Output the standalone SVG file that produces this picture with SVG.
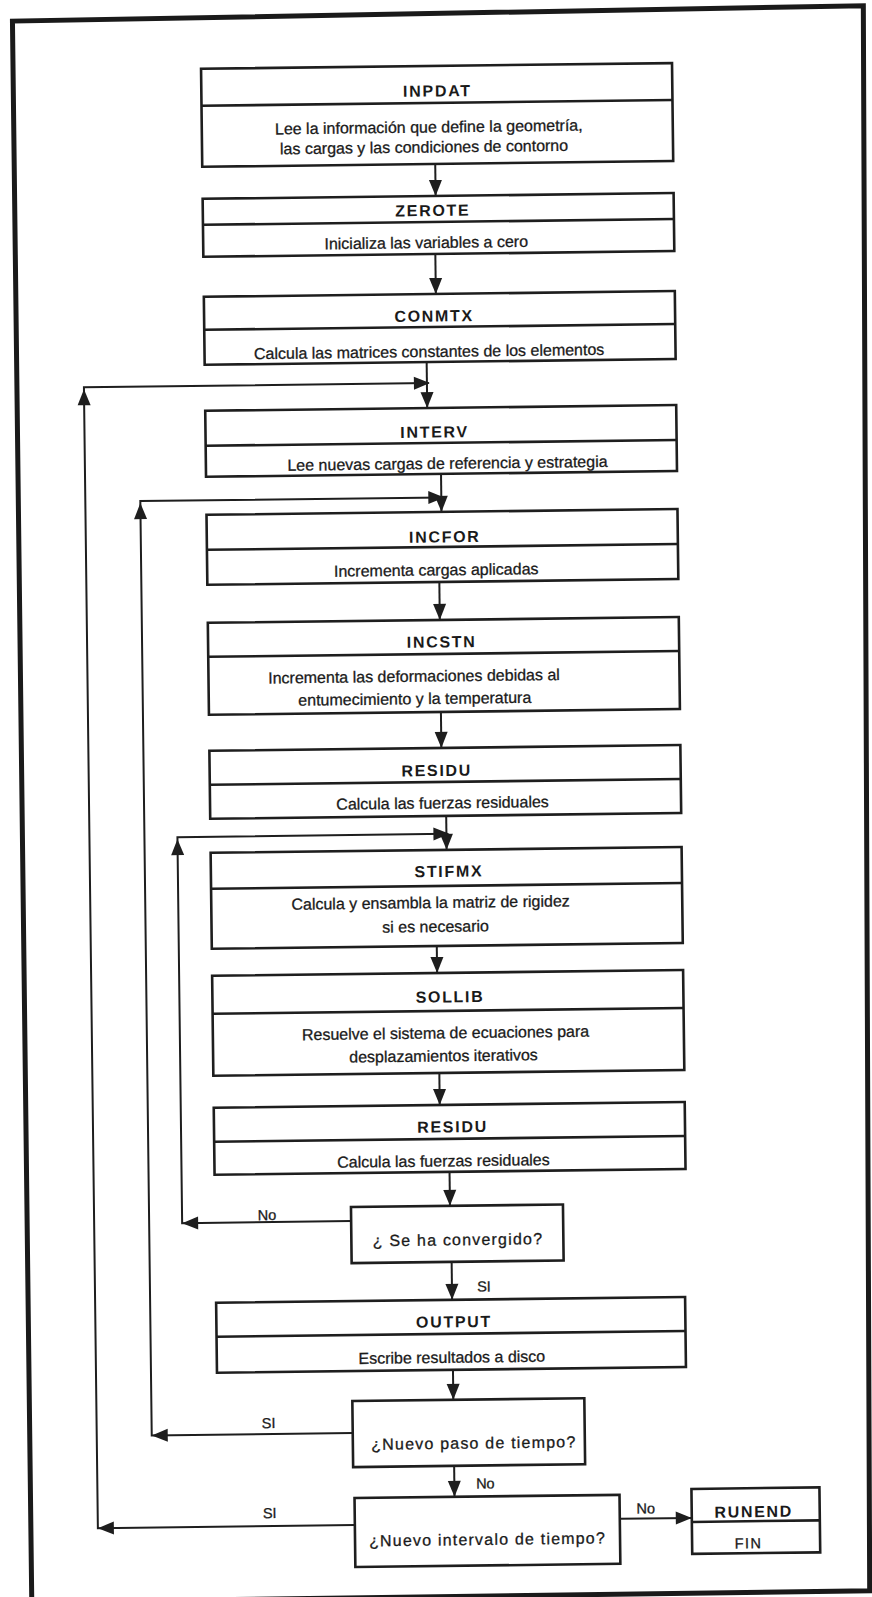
<svg xmlns="http://www.w3.org/2000/svg" xmlns:xlink="http://www.w3.org/1999/xlink" width="872" height="1597" viewBox="0 0 872 1597">
<style>
.box{fill:#fff;stroke:#1e1e1e;stroke-width:2.6}
.div{stroke:#1e1e1e;stroke-width:2.6}
.ln{fill:none;stroke:#1e1e1e;stroke-width:2}
.frame{fill:none;stroke:#1a1a1a;stroke-width:5}
.ttl{font-family:"Liberation Sans",Arial,sans-serif;font-size:16px;font-weight:bold;letter-spacing:1.7px;text-anchor:middle;fill:#1a1a1a}
.txt{font-family:"Liberation Sans",Arial,sans-serif;font-size:16px;text-anchor:middle;fill:#1a1a1a;stroke:#1a1a1a;stroke-width:0.3}
.dec{font-family:"Liberation Sans",Arial,sans-serif;font-size:16px;letter-spacing:1.2px;text-anchor:middle;fill:#1a1a1a;stroke:#1a1a1a;stroke-width:0.3}
.lbl{font-family:"Liberation Sans",Arial,sans-serif;font-size:14.5px;text-anchor:middle;fill:#1a1a1a;stroke:#1a1a1a;stroke-width:0.3}
.ah{fill:#1e1e1e}
</style>
<defs>
<path id="ah" class="ah" d="M0 0 L-16 -6.5 L-16 6.5 Z"/>
</defs>
<rect width="872" height="1597" fill="#fff"/>
<g transform="rotate(-0.7 436 800)">
<path class="frame" d="M22 1600 L22 16 L873 11 L860 1596 L200 1597"/>

<g id="inpdat">
<rect class="box" x="210" y="66" width="471" height="98"/>
<line class="div" x1="210" y1="103" x2="681" y2="103"/>
<text class="ttl" x="446" y="96.5">INPDAT</text>
<text class="txt" x="437" y="132.5">Lee la información que define la geometría,</text>
<text class="txt" x="432" y="152.5">las cargas y las condiciones de contorno</text>
</g>
<g id="zerote">
<rect class="box" x="210" y="196" width="471" height="58"/>
<line class="div" x1="210" y1="222" x2="681" y2="222"/>
<text class="ttl" x="440" y="216">ZEROTE</text>
<text class="txt" x="433" y="248">Inicializa las variables a cero</text>
</g>
<g id="conmtx">
<rect class="box" x="210" y="294" width="471" height="68"/>
<line class="div" x1="210" y1="327" x2="681" y2="327"/>
<text class="ttl" x="440" y="321.5">CONMTX</text>
<text class="txt" x="434.6" y="357">Calcula las matrices constantes de los elementos</text>
</g>
<g id="interv">
<rect class="box" x="210" y="408" width="471" height="66"/>
<line class="div" x1="210" y1="443" x2="681" y2="443"/>
<text class="ttl" x="439" y="437.5">INTERV</text>
<text class="txt" x="451.6" y="469">Lee nuevas cargas de referencia y estrategia</text>
</g>
<g id="incfor">
<rect class="box" x="210" y="512" width="471" height="70"/>
<line class="div" x1="210" y1="547" x2="681" y2="547"/>
<text class="ttl" x="448" y="542.5">INCFOR</text>
<text class="txt" x="439" y="575.5">Incrementa cargas aplicadas</text>
</g>
<g id="incstn">
<rect class="box" x="210" y="620" width="471" height="92"/>
<line class="div" x1="210" y1="654" x2="681" y2="654"/>
<text class="ttl" x="443.5" y="647.5">INCSTN</text>
<text class="txt" x="415.5" y="681.5">Incrementa las deformaciones debidas al</text>
<text class="txt" x="416" y="704">entumecimiento y la temperatura</text>
</g>
<g id="residu1">
<rect class="box" x="210" y="748" width="471" height="68"/>
<line class="div" x1="210" y1="782" x2="681" y2="782"/>
<text class="ttl" x="437" y="776">RESIDU</text>
<text class="txt" x="442.5" y="808.5">Calcula las fuerzas residuales</text>
</g>
<g id="stifmx">
<rect class="box" x="210" y="850" width="471" height="96"/>
<line class="div" x1="210" y1="886" x2="681" y2="886"/>
<text class="ttl" x="448" y="877">STIFMX</text>
<text class="txt" x="429.3" y="908">Calcula y ensambla la matriz de rigidez</text>
<text class="txt" x="434" y="932">si es necesario</text>
</g>
<g id="sollib">
<rect class="box" x="210" y="973" width="471" height="100"/>
<line class="div" x1="210" y1="1011" x2="681" y2="1011"/>
<text class="ttl" x="447.6" y="1002.5">SOLLIB</text>
<text class="txt" x="442.7" y="1038.5">Resuelve el sistema de ecuaciones para</text>
<text class="txt" x="440.4" y="1061.5">desplazamientos iterativos</text>
</g>
<g id="residu2">
<rect class="box" x="210" y="1105" width="471" height="67"/>
<line class="div" x1="210" y1="1139" x2="681" y2="1139"/>
<text class="ttl" x="448.5" y="1132.5">RESIDU</text>
<text class="txt" x="439" y="1166.5">Calcula las fuerzas residuales</text>
</g>
<g id="convergido">
<rect class="box" x="346" y="1206" width="212" height="56"/>
<text class="dec" x="452.6" y="1245.5">¿ Se ha convergido?</text>
</g>
<g id="output">
<rect class="box" x="210" y="1300" width="469" height="70"/>
<line class="div" x1="210" y1="1334" x2="679" y2="1334"/>
<text class="ttl" x="447.6" y="1327.5">OUTPUT</text>
<text class="txt" x="445" y="1363">Escribe resultados a disco</text>
</g>
<g id="paso">
<rect class="box" x="345" y="1400" width="232" height="66"/>
<text class="dec" x="466" y="1449">¿Nuevo paso de tiempo?</text>
</g>
<g id="intervalo">
<rect class="box" x="346" y="1497" width="265" height="69"/>
<text class="dec" x="478.5" y="1545.5">¿Nuevo intervalo de tiempo?</text>
</g>
<g id="runend">
<rect class="box" x="683" y="1492" width="128" height="65"/>
<line class="div" x1="683" y1="1525" x2="811" y2="1525"/>
<text class="ttl" x="745" y="1521">RUNEND</text>
<text class="lbl" x="739.4" y="1552" letter-spacing="1.5">FIN</text>
</g>

<g id="connectors">
<path class="ln" d="M443 164 V196"/>
<use xlink:href="#ah" transform="translate(443 196) rotate(90)"/>
<path class="ln" d="M442 254 V294"/>
<use xlink:href="#ah" transform="translate(442 294) rotate(90)"/>
<path class="ln" d="M432 362 V408"/>
<use xlink:href="#ah" transform="translate(432 408) rotate(90)"/>
<path class="ln" d="M445 474 V512"/>
<use xlink:href="#ah" transform="translate(445 512) rotate(90)"/>
<path class="ln" d="M442 582 V620"/>
<use xlink:href="#ah" transform="translate(442 620) rotate(90)"/>
<path class="ln" d="M442 712 V748"/>
<use xlink:href="#ah" transform="translate(442 748) rotate(90)"/>
<path class="ln" d="M446 816 V850"/>
<use xlink:href="#ah" transform="translate(446 850) rotate(90)"/>
<path class="ln" d="M435 946 V973"/>
<use xlink:href="#ah" transform="translate(435 973) rotate(90)"/>
<path class="ln" d="M436 1073 V1105"/>
<use xlink:href="#ah" transform="translate(436 1105) rotate(90)"/>
<path class="ln" d="M445 1172 V1206"/>
<use xlink:href="#ah" transform="translate(445 1206) rotate(90)"/>
<path class="ln" d="M446 1262 V1300"/>
<use xlink:href="#ah" transform="translate(446 1300) rotate(90)"/>
<path class="ln" d="M446 1370 V1400"/>
<use xlink:href="#ah" transform="translate(446 1400) rotate(90)"/>
<path class="ln" d="M446 1466 V1497"/>
<use xlink:href="#ah" transform="translate(446 1497) rotate(90)"/>
<path class="ln" d="M611 1521 H683"/>
<use xlink:href="#ah" transform="translate(683 1521)"/>

<path class="ln" d="M346 1524 H89 V383 H434"/>
<use xlink:href="#ah" transform="translate(89 1524) rotate(180)"/>
<use xlink:href="#ah" transform="translate(89 385) rotate(-90)"/>
<use xlink:href="#ah" transform="translate(435 383)"/>

<path class="ln" d="M345 1432 H144 V497.5 H446"/>
<use xlink:href="#ah" transform="translate(144 1432) rotate(180)"/>
<use xlink:href="#ah" transform="translate(144 499.5) rotate(-90)"/>
<use xlink:href="#ah" transform="translate(448 497.5)"/>

<path class="ln" d="M346 1220 H177 V834 H447"/>
<use xlink:href="#ah" transform="translate(177 1220) rotate(180)"/>
<use xlink:href="#ah" transform="translate(177 836) rotate(-90)"/>
<use xlink:href="#ah" transform="translate(449 834)"/>

<text class="lbl" x="262" y="1218">No</text>
<text class="lbl" x="478" y="1292">SI</text>
<text class="lbl" x="261" y="1426">SI</text>
<text class="lbl" x="477" y="1489">No</text>
<text class="lbl" x="261" y="1516">SI</text>
<text class="lbl" x="637" y="1516">No</text>
</g>
</g>
</svg>
